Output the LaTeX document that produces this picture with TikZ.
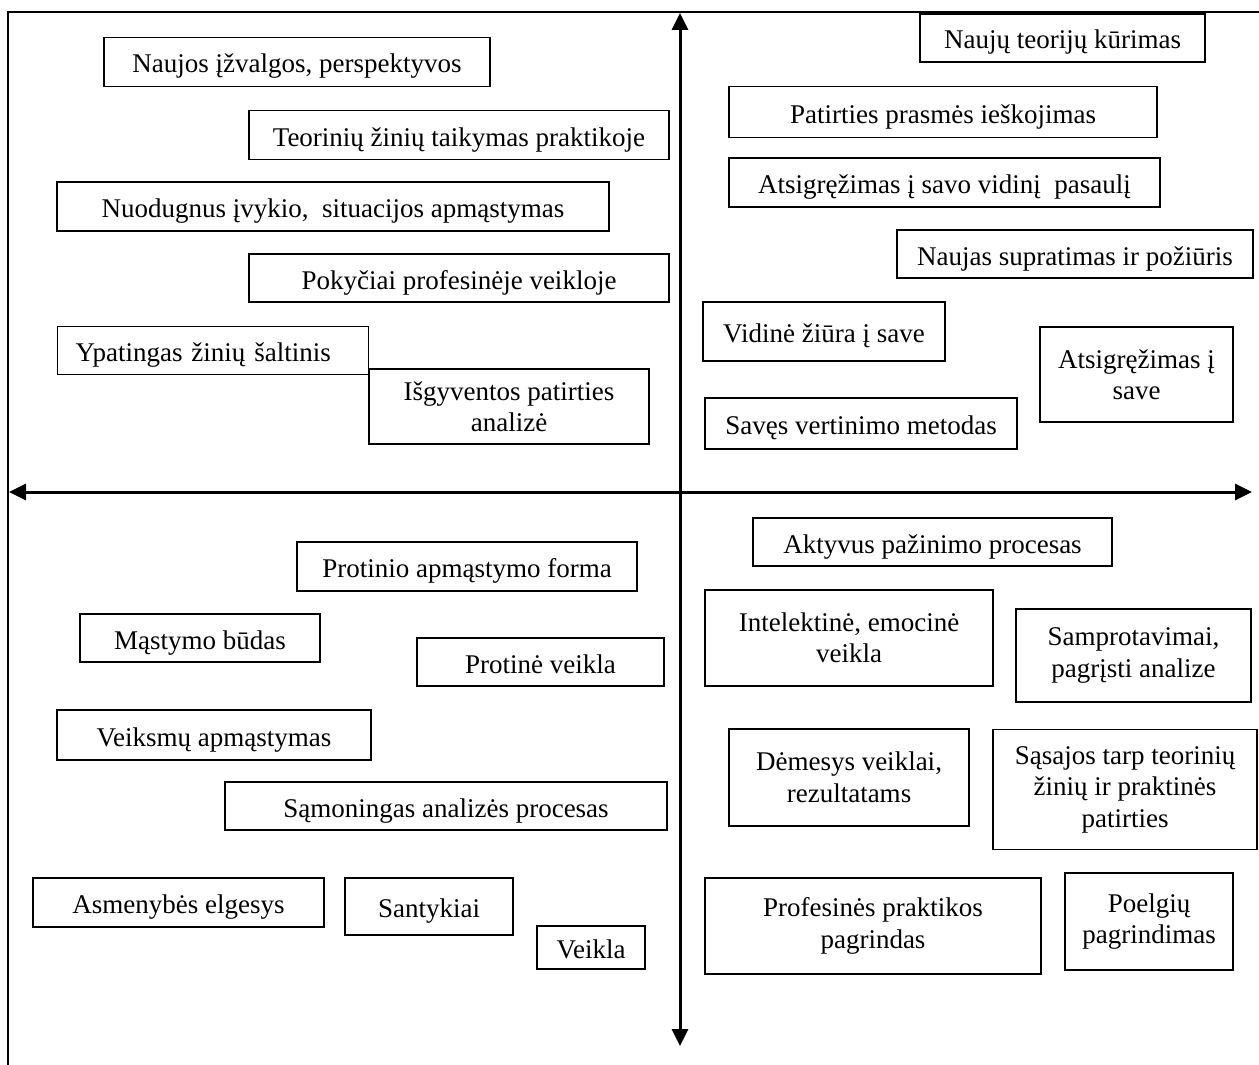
\documentclass[tikz,border=0pt]{standalone}
\usepackage{fontspec}
\setmainfont{Liberation Serif}
\usetikzlibrary{arrows.meta}

\begin{document}
\begin{tikzpicture}[x=1pt,y=-1pt,
  box/.style={draw,line width=1.8pt,align=center,inner sep=0pt,font=\fontsize{27}{31.5}\selectfont},
  single/.style={box,text height=22pt,text depth=0pt},
  axis/.style={line width=3pt,{Triangle[length=17pt,width=16pt]}-{Triangle[length=17pt,width=16pt]}}]
\useasboundingbox (0,0) rectangle (1259,1065);
\draw[line width=1.8pt] (8,1065)--(8,12)--(1259,12);
\coordinate (top) at (680,13);
\coordinate (bottom) at (680,1046);
\coordinate (left) at (9,492);
\coordinate (right) at (1252,492);
\draw[axis] (bottom)--(top);
\draw[axis] (left)--(right);
% virsutinis kairys
\node[single,minimum width=386pt,minimum height=49pt] (izvalg) at (297,62) {Naujos įžvalgos, perspektyvos};
\node[single,minimum width=420pt,minimum height=49pt] (taik) at (459,135) {Teorinių žinių taikymas praktikoje};
\node[single,minimum width=552pt,minimum height=49pt] (nuod) at (333,206.5) {Nuodugnus įvykio,\ \ situacijos apmąstymas};
\node[single,minimum width=420pt,minimum height=48pt] (pokyc) at (459,278) {Pokyčiai profesinėje veikloje};
\node[single,align=left,text width=275pt,inner xsep=18pt,minimum height=48pt] (salt) at (213,350.5) {Ypatingas žinių šaltinis};
\node[box,minimum width=280pt,minimum height=75pt] (isgyv) at (509,406.5) {Išgyventos patirties\\analizė};
% virsutinis desinys
\node[single,minimum width=285pt,minimum height=48pt] (kur) at (1062.5,38) {Naujų teorijų kūrimas};
\node[single,minimum width=428pt,minimum height=51pt] (prasm) at (943,112) {Patirties prasmės ieškojimas};
\node[single,minimum width=431pt,minimum height=49pt] (pasaul) at (944.5,182.5) {Atsigręžimas į savo vidinį\ \ pasaulį};
\node[single,minimum width=356pt,minimum height=48pt] (supr) at (1075,254) {Naujas supratimas ir požiūris};
\node[single,minimum width=242pt,minimum height=59pt] (ziur) at (824,331.5) {Vidinė žiūra į save};
\node[box,minimum width=193pt,minimum height=95pt] (save) at (1136.5,374.5) {Atsigręžimas į\\save};
\node[single,minimum width=312pt,minimum height=51pt] (vert) at (861,423.5) {Savęs vertinimo metodas};
% apatinis kairys
\node[single,minimum width=340pt,minimum height=49pt] (forma) at (467,566.5) {Protinio apmąstymo forma};
\node[single,minimum width=240pt,minimum height=48pt] (budas) at (200,638) {Mąstymo būdas};
\node[single,minimum width=247pt,minimum height=48pt] (protv) at (540.5,662) {Protinė veikla};
\node[single,minimum width=314pt,minimum height=50pt] (veiksm) at (214,735) {Veiksmų apmąstymas};
\node[single,minimum width=442pt,minimum height=48pt] (samon) at (446,806) {Sąmoningas analizės procesas};
\node[single,minimum width=291pt,minimum height=49pt] (elges) at (178.5,902.5) {Asmenybės elgesys};
\node[single,minimum width=168pt,minimum height=57pt] (sant) at (429,906.5) {Santykiai};
\node[single,minimum width=108pt,minimum height=43pt] (veikla) at (591,947.5) {Veikla};
% apatinis desinys
\node[single,minimum width=359pt,minimum height=48pt] (pazin) at (932.5,542) {Aktyvus pažinimo procesas};
\node[box,minimum width=288pt,minimum height=96pt] (intel) at (849,638) {Intelektinė, emocinė\\veikla};
\node[box,minimum width=235pt,minimum height=93pt] (sampr) at (1133.5,655.5) {Samprotavimai,\\pagrįsti analize};
\node[box,minimum width=240pt,minimum height=97pt] (demes) at (849,777.5) {Dėmesys veiklai,\\rezultatams};
\node[box,minimum width=264pt,minimum height=120pt] (sasaj) at (1125,789.5) {Sąsajos tarp teorinių\\žinių ir praktinės\\patirties};
\node[box,minimum width=336pt,minimum height=96pt] (prakt) at (873,926) {Profesinės praktikos\\pagrindas};
\node[box,minimum width=168pt,minimum height=97pt] (poelg) at (1149,921.5) {Poelgių\\pagrindimas};
\end{tikzpicture}
\end{document}
